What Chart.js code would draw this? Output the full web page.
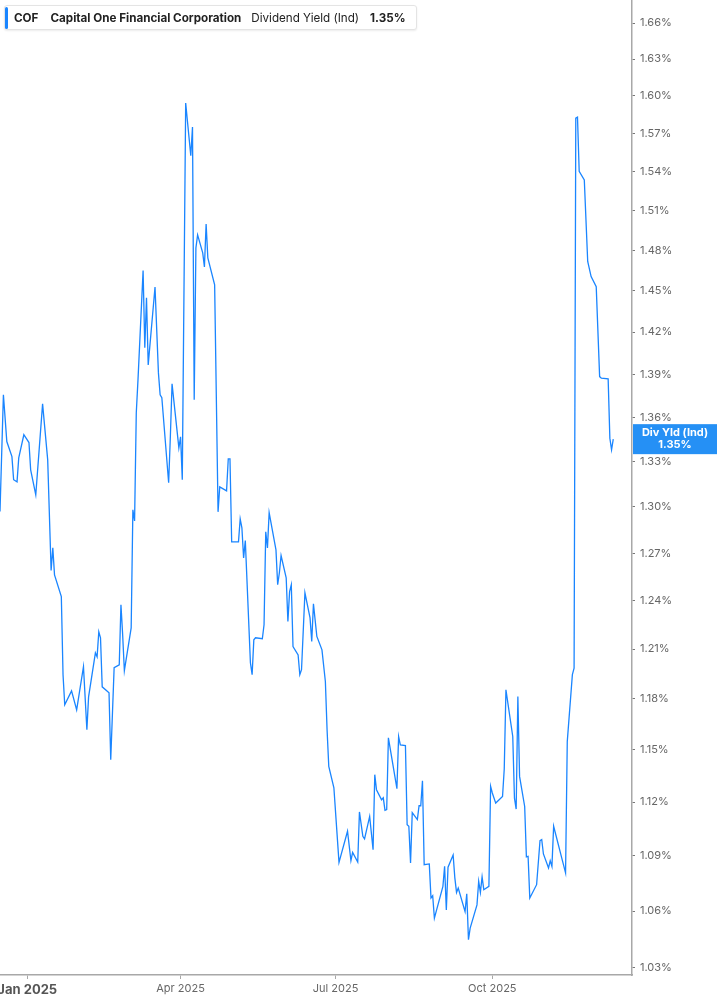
<!DOCTYPE html>
<html>
<head>
<meta charset="utf-8">
<script src="https://cdn.jsdelivr.net/npm/chart.js@4.4.1/dist/chart.umd.min.js"></script>
<style>
  html, body { margin: 0; padding: 0; background: #fff; }
  #wrap { position: relative; width: 717px; height: 1005px; }
  #title {
    position: absolute; left: 4px; top: 5px; height: 25px; width: 413px;
    border: 1px solid #e4e4e4; border-radius: 3px; background: #fff;
    box-shadow: 0 1px 2px rgba(0,0,0,0.08);
    font-family: Inter, "Noto Sans", sans-serif; font-size: 11.65px; color: #222;
    display: flex; align-items: center; box-sizing: border-box;
  }
  #title .bar { width: 3px; height: 22px; background: #1a85ff; border-radius: 2px; margin-right: 6px; }
  #title span { white-space: nowrap; }
  #title b { font-weight: 700; }
</style>
</head>
<body>
<div id="wrap">
  <canvas id="chart" width="717" height="1005"></canvas>
  <div id="title">
    <div class="bar"></div>
    <span><b>COF</b></span>
    <span style="margin-left:12px"><b>Capital One Financial Corporation</b></span>
    <span style="margin-left:10px">Dividend Yield (Ind)</span>
    <span style="margin-left:11px"><b id="lastVal"></b></span>
  </div>
</div>
<script>
const ticker = 'COF';
const seriesName = 'Dividend Yield (Ind)';
const shortName = 'Div Yld (Ind)';

const dates = [
  '2024-12-16','2024-12-18','2024-12-20','2024-12-23','2024-12-24','2024-12-26','2024-12-27','2024-12-30',
  '2025-01-02','2025-01-03','2025-01-06','2025-01-10','2025-01-13','2025-01-15','2025-01-16','2025-01-17',
  '2025-01-21','2025-01-22','2025-01-23','2025-01-27','2025-01-30','2025-02-03','2025-02-05','2025-02-06',
  '2025-02-10','2025-02-11','2025-02-12','2025-02-13','2025-02-14','2025-02-18','2025-02-19','2025-02-21',
  '2025-02-24','2025-02-25','2025-02-26','2025-02-27','2025-03-03','2025-03-04','2025-03-05','2025-03-06',
  '2025-03-07','2025-03-10','2025-03-11','2025-03-12','2025-03-13','2025-03-17','2025-03-19','2025-03-20',
  '2025-03-21','2025-03-25','2025-03-26','2025-03-27','2025-03-31','2025-04-01','2025-04-02','2025-04-04',
  '2025-04-07','2025-04-08','2025-04-09','2025-04-10','2025-04-11','2025-04-14','2025-04-15','2025-04-16',
  '2025-04-17','2025-04-21','2025-04-23','2025-04-24','2025-04-28','2025-04-29','2025-04-30','2025-05-01',
  '2025-05-05','2025-05-06','2025-05-07','2025-05-08','2025-05-09','2025-05-12','2025-05-13','2025-05-14',
  '2025-05-15','2025-05-19','2025-05-20','2025-05-21','2025-05-22','2025-05-23','2025-05-27','2025-05-28',
  '2025-05-29','2025-05-30','2025-06-02','2025-06-03','2025-06-04','2025-06-05','2025-06-06','2025-06-09',
  '2025-06-10','2025-06-11','2025-06-13','2025-06-16','2025-06-17','2025-06-18','2025-06-20','2025-06-23',
  '2025-06-25','2025-06-26','2025-06-27','2025-06-30','2025-07-03','2025-07-08','2025-07-10','2025-07-11',
  '2025-07-14','2025-07-15','2025-07-17','2025-07-18','2025-07-21','2025-07-23','2025-07-24','2025-07-25',
  '2025-07-28','2025-07-29','2025-07-30','2025-07-31','2025-08-01','2025-08-06','2025-08-07','2025-08-08',
  '2025-08-11','2025-08-12','2025-08-13','2025-08-14','2025-08-15','2025-08-18','2025-08-19','2025-08-20',
  '2025-08-21','2025-08-22','2025-08-25','2025-08-26','2025-08-27','2025-08-28','2025-09-02','2025-09-03',
  '2025-09-04','2025-09-05','2025-09-08','2025-09-09','2025-09-10','2025-09-11','2025-09-15','2025-09-16',
  '2025-09-17','2025-09-18','2025-09-22','2025-09-23','2025-09-24','2025-09-25','2025-09-26','2025-09-29',
  '2025-09-30','2025-10-01','2025-10-03','2025-10-07','2025-10-08','2025-10-09','2025-10-13','2025-10-14',
  '2025-10-15','2025-10-16','2025-10-17','2025-10-20','2025-10-21','2025-10-22','2025-10-23','2025-10-27',
  '2025-10-29','2025-10-30','2025-10-31','2025-11-03','2025-11-04','2025-11-05','2025-11-06','2025-11-11',
  '2025-11-13','2025-11-14','2025-11-17','2025-11-18','2025-11-19','2025-11-20','2025-11-21','2025-11-24',
  '2025-11-26','2025-11-28','2025-12-01','2025-12-03','2025-12-04','2025-12-08','2025-12-09','2025-12-10',
  '2025-12-11'
];

const yieldPct = [
  1.297, 1.3758, 1.3437, 1.3335, 1.318, 1.3166, 1.3326, 1.3483,
  1.343, 1.3246, 1.308, 1.3695, 1.3313, 1.259, 1.2734, 1.2562,
  1.2425, 1.1944, 1.1764, 1.1847, 1.1734, 1.1992, 1.1616, 1.1811,
  1.2076, 1.2052, 1.2206, 1.2169, 1.1871, 1.1835, 1.1442, 1.1986,
  1.2004, 1.2373, 1.2187, 1.1968, 1.223, 1.2981, 1.2909, 1.3633,
  1.3862, 1.4649, 1.4088, 1.4448, 1.3967, 1.4528, 1.3911, 1.3758,
  1.3737, 1.316, 1.3469, 1.3834, 1.3394, 1.3469, 1.318, 1.5943,
  1.5523, 1.5751, 1.3723, 1.4817, 1.4915, 1.478, 1.4676, 1.4998,
  1.4743, 1.4543, 1.2968, 1.3133, 1.3106, 1.332, 1.332, 1.2773,
  1.2773, 1.2922, 1.2864, 1.267, 1.2782, 1.2016, 1.1944, 1.2156,
  1.2169, 1.2163, 1.2249, 1.2838, 1.2734, 1.2963, 1.2721, 1.2499,
  1.2575, 1.2685, 1.2543, 1.227, 1.2456, 1.2499, 1.2115, 1.2064,
  1.1944, 1.1974, 1.2448, 1.2292, 1.2146, 1.2379, 1.2177, 1.2095,
  1.1903, 1.1616, 1.1403, 1.1281, 1.0864, 1.1036, 1.0873, 1.0919,
  1.0866, 1.1144, 1.1008, 1.0994, 1.1119, 1.0934, 1.1356, 1.127,
  1.1213, 1.1224, 1.1153, 1.1157, 1.1569, 1.1276, 1.1577, 1.1528,
  1.1524, 1.1073, 1.1064, 1.0861, 1.114, 1.1101, 1.1179, 1.1179,
  1.1321, 1.0851, 1.0855, 1.067, 1.0682, 1.0562, 1.0733, 1.0842,
  1.0606, 1.0837, 1.0904, 1.0779, 1.07, 1.0724, 1.0597, 1.0693,
  1.0448, 1.0509, 1.0633, 1.076, 1.07, 1.0784, 1.0715, 1.0733,
  1.1289, 1.1251, 1.1194, 1.1231, 1.1388, 1.1853, 1.1577, 1.1222,
  1.116, 1.1813, 1.1346, 1.1175, 1.0894, 1.0897, 1.067, 1.0742,
  1.0984, 1.099, 1.091, 1.0833, 1.0873, 1.0842, 1.1064, 1.0879,
  1.0806, 1.1548, 1.1944, 1.1984, 1.5821, 1.5829, 1.5401, 1.5335,
  1.4716, 1.4604, 1.453, 1.3885, 1.3874, 1.3869, 1.346, 1.3381,
  1.3453
];

const xTickDates = ['2025-01-01', '2025-04-01', '2025-07-01', '2025-10-01'];
const xTickLabels = ['Jan 2025', 'Apr 2025', 'Jul 2025', 'Oct 2025'];
const xRange = ['2024-12-16', '2025-12-22'];

const yTicks = [1.03, 1.06, 1.09, 1.12, 1.15, 1.18, 1.21, 1.24, 1.27, 1.30, 1.33,
                1.36, 1.39, 1.42, 1.45, 1.48, 1.51, 1.54, 1.57, 1.60, 1.63, 1.66];
const yRange = [1.0263, 1.6794];

// days since 1 Jan 2025
const base = Date.UTC(2025, 0, 1);
function dayOf(s) {
  const p = s.split('-').map(Number);
  return (Date.UTC(p[0], p[1] - 1, p[2]) - base) / 86400000;
}

const points = dates.map((d, i) => ({ x: dayOf(d), y: yieldPct[i] }));
const lastVal = yieldPct[yieldPct.length - 1];
document.getElementById('lastVal').textContent = lastVal.toFixed(2) + '%';

const lineColor = '#1a85ff';
const axisColor = '#a8a8a8';
const tickColor = '#666';
const font = 'Inter, "Noto Sans", sans-serif';

const lastLabel = {
  id: 'lastLabel',
  afterDraw(chart) {
    const ctx = chart.ctx;
    const y = chart.scales.y.getPixelForValue(lastVal);
    const left = chart.chartArea.right + 1;
    const w = chart.width - left;
    ctx.save();
    ctx.fillStyle = '#2590f5';
    ctx.fillRect(left, y - 15, w, 30);
    ctx.fillStyle = '#fff';
    ctx.textAlign = 'center';
    ctx.textBaseline = 'middle';
    ctx.font = 'bold 11px ' + font;
    ctx.fillText(shortName, left + w / 2, y - 6);
    ctx.fillText(lastVal.toFixed(2) + '%', left + w / 2, y + 6);
    ctx.restore();
  }
};

new Chart(document.getElementById('chart'), {
  type: 'line',
  data: {
    datasets: [{
      label: seriesName,
      data: points,
      borderColor: lineColor,
      borderWidth: 1.3,
      pointRadius: 0,
      fill: false,
      tension: 0
    }]
  },
  options: {
    responsive: false,
    animation: false,
    layout: { padding: 0 },
    plugins: { legend: { display: false }, tooltip: { enabled: false } },
    scales: {
      x: {
        type: 'linear',
        min: dayOf(xRange[0]),
        max: dayOf(xRange[1]),
        afterBuildTicks(scale) {
          scale.ticks = xTickDates.map(d => ({ value: dayOf(d) }));
        },
        afterFit(scale) {
          scale.height = 30;
          scale.paddingLeft = 0;
          scale.paddingRight = 0;
        },
        border: { display: true, color: axisColor, width: 1.5 },
        grid: { drawOnChartArea: false, drawTicks: true, tickLength: 4, color: axisColor },
        ticks: {
          autoSkip: false,
          maxRotation: 0,
          padding: 3,
          color: (c) => c.index === 0 ? '#555' : tickColor,
          font: (c) => c.index === 0 ? { family: font, size: 13, weight: 'bold' } : { family: font, size: 11 },
          callback: (v) => xTickLabels[xTickDates.findIndex(d => dayOf(d) === v)]
        }
      },
      y: {
        type: 'logarithmic',
        position: 'right',
        min: yRange[0],
        max: yRange[1],
        afterBuildTicks(scale) {
          scale.ticks = yTicks.map(v => ({ value: v }));
        },
        afterFit(scale) {
          scale.width = 85;
          scale.paddingTop = 0;
          scale.paddingBottom = 0;
        },
        border: { display: true, color: axisColor, width: 1.5 },
        grid: { drawOnChartArea: false, drawTicks: true, tickLength: 3, color: '#777' },
        ticks: {
          autoSkip: false,
          padding: 5,
          color: tickColor,
          font: { family: font, size: 11 },
          callback: (v) => Number(v).toFixed(2) + '%'
        }
      }
    }
  },
  plugins: [lastLabel]
});
</script>
</body>
</html>
